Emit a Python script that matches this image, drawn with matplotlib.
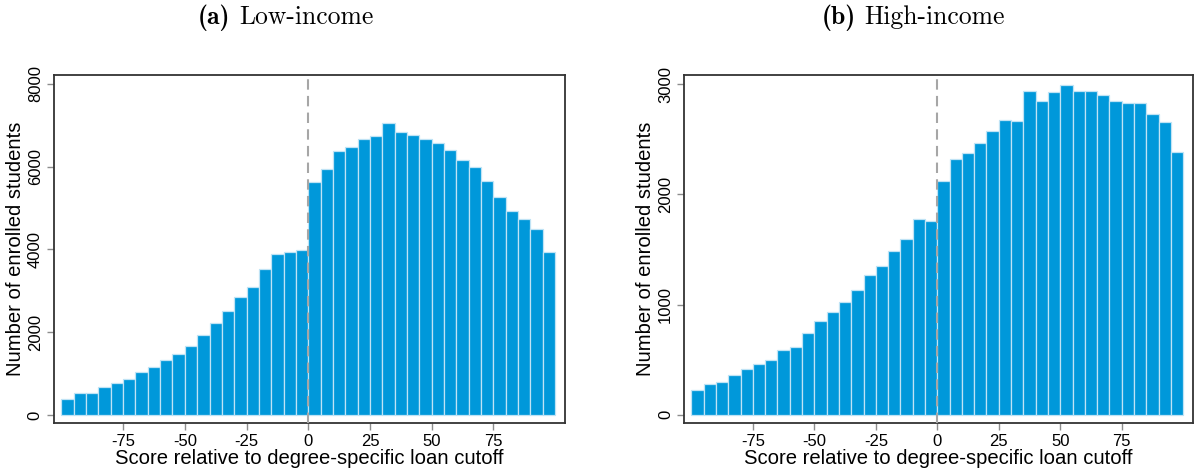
import numpy as np
import matplotlib
matplotlib.use("Agg")
import matplotlib.pyplot as plt

# ---- dados (bins de 5 pontos, -100 a 100) ----
score_bins = np.arange(-100, 100, 5)

low_income = [387, 540, 524, 677, 781, 862, 1047, 1168, 1329, 1466,
              1660, 1925, 2215, 2522, 2852, 3086, 3521, 3883, 3948, 3980,
              5623, 5937, 6365, 6469, 6663, 6735, 7057, 6840, 6759, 6655,
              6574, 6389, 6163, 5994, 5640, 5269, 4930, 4737, 4487, 3931]

high_income = [224, 278, 299, 360, 417, 459, 492, 589, 613, 743,
               846, 931, 1021, 1130, 1269, 1353, 1489, 1592, 1773, 1761,
               2118, 2326, 2375, 2471, 2577, 2674, 2668, 2943, 2852, 2931,
               2997, 2943, 2937, 2903, 2846, 2831, 2828, 2728, 2659, 2390]

x_ticks = [-75, -50, -25, 0, 25, 50, 75]
low_yticks = [0, 2000, 4000, 6000, 8000]
high_yticks = [0, 1000, 2000, 3000]

BAR_COLOR = '#0098da'
EDGE_COLOR = '#bfe3f5'

plt.rcParams['font.family'] = ['Liberation Sans', 'DejaVu Sans']
plt.rcParams['axes.unicode_minus'] = False

fig = plt.figure(figsize=(11.94, 4.74), dpi=100)
ax1 = fig.add_axes([0.0452, 0.1076, 0.4280, 0.7342])
ax2 = fig.add_axes([0.5729, 0.1076, 0.4263, 0.7342])


def painel(ax, valores, yticks, ylim):
    ax.bar(score_bins, valores, width=5, align='edge', color=BAR_COLOR,
           edgecolor=EDGE_COLOR, linewidth=0.9, zorder=2)
    ax.axvline(0, color='#a6a6a6', linestyle=(0, (5, 3)), linewidth=1.5, zorder=3)
    ax.set_xlim(-103, 104)
    ax.set_ylim(*ylim)
    ax.set_xticks(x_ticks)
    ax.set_yticks(yticks)
    ax.tick_params(axis='both', direction='out', length=5, width=1,
                   color='#8c8c8c', labelsize=12)
    ax.tick_params(axis='y', labelrotation=90, pad=3)
    ax.tick_params(axis='x', pad=3)
    for lab in ax.get_yticklabels():
        lab.set_va('center')
    for s in ax.spines.values():
        s.set_color('#333333')
        s.set_linewidth(1.3)
    ax.set_xlabel('Score relative to degree-specific loan cutoff', fontsize=14.6, labelpad=0)
    ax.set_ylabel('Number of enrolled students', fontsize=14.6, labelpad=2)


painel(ax1, low_income, low_yticks, (-190, 8210))
painel(ax2, high_income, high_yticks, (-76, 3085))

# titulos: parte em negrito + texto normal (fonte tipo Computer Modern)
for xpos, letra, nome in [(0.193, '(a)', 'Low-income'), (0.717, '(b)', 'High-income')]:
    fig.text(xpos, 0.963, letra, family='cmb10', fontsize=18.5, ha='right', va='center')
    fig.text(xpos + 0.007, 0.963, nome, family='cmr10', fontsize=18.5, ha='left', va='center')

fig.savefig('out.png', dpi=100)
